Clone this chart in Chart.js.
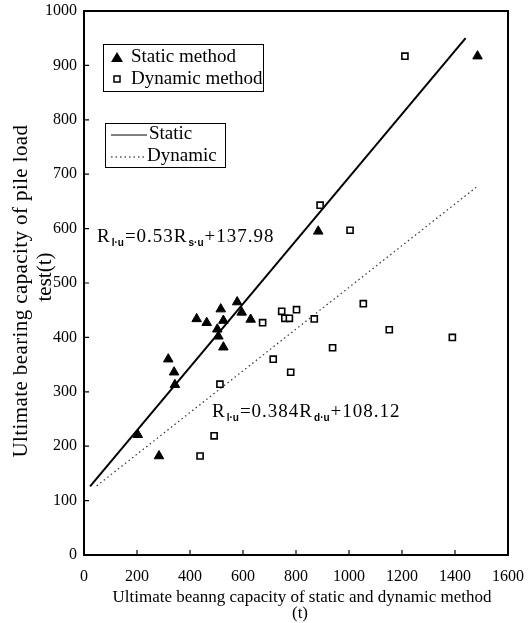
<!DOCTYPE html>
<html><head><meta charset="utf-8">
<script src="https://cdn.jsdelivr.net/npm/chart.js@4/dist/chart.umd.min.js"></script>
<style>html,body{margin:0;padding:0;background:#fff;}#wrap{width:532px;height:623px;position:relative;}</style>
</head><body><div id="wrap"><canvas id="c" width="532" height="623"></canvas></div>
<script>
const xTickValues = [0, 200, 400, 600, 800, 1000, 1200, 1400, 1600];
const yTickValues = [0, 100, 200, 300, 400, 500, 600, 700, 800, 900, 1000];
const staticX = [203, 283, 318, 340, 343, 425, 463, 516, 526, 503, 507, 526, 578, 595, 629, 884, 1485];
const staticY = [221, 182, 360, 336, 313, 434, 427, 452, 431, 415, 402, 382, 465, 446, 433, 595, 917];
const dynamicX = [438, 491, 513, 674, 714, 780, 746, 758, 775, 802, 869, 938, 1054, 1152, 1004, 891, 1211, 1390];
const dynamicY = [182, 219, 314, 427, 360, 336, 448, 435, 435, 451, 434, 381, 462, 414, 597, 643, 917, 400];
const staticLineX = [23, 1440];
const staticLineY = [126, 950];
const dynamicLineX = [48, 1480];
const dynamicLineY = [127, 676];
const legendItems = ['Static method', 'Dynamic method'];
const lineLegendItems = ['Static', 'Dynamic'];
const xTitle = ['Ultimate beanng capacity of static and dynamic method', '(t)'];
const yTitle = ['Ultimate bearing capacity of pile load', 'test(t)'];

const SERIF = '"Liberation Serif", "Times New Roman", serif';
const pts = (xs, ys) => xs.map((x, i) => ({x, y: ys[i]}));

function drawEq(ctx, x, y, parts, size) {
  ctx.textBaseline = 'alphabetic';
  ctx.textAlign = 'left';
  let cx = x;
  parts.forEach(([t, sub]) => {
    if (sub) {
      ctx.font = 'bold 10px "Liberation Sans", Arial, sans-serif';
      ctx.letterSpacing = '0px';
      ctx.fillText(t, cx + 1, y + 4);
      cx += ctx.measureText(t).width + 2;
    } else {
      ctx.font = size + 'px ' + SERIF;
      ctx.letterSpacing = '1px';
      ctx.fillText(t, cx, y);
      cx += ctx.measureText(t).width;
    }
  });
  ctx.letterSpacing = '0px';
}

const deco = {
  id: 'deco',
  afterDraw(chart) {
    const {ctx, chartArea: a, scales: {x, y}} = chart;
    ctx.save();
    ctx.strokeStyle = '#000';
    ctx.fillStyle = '#000';
    ctx.lineWidth = 2;
    ctx.beginPath();
    ctx.moveTo(a.left, a.top); ctx.lineTo(a.right, a.top); ctx.lineTo(a.right, a.bottom);
    ctx.stroke();
    ctx.lineWidth = 1.2;
    ctx.beginPath();
    yTickValues.forEach(v => { const p = y.getPixelForValue(v); ctx.moveTo(a.left, p); ctx.lineTo(a.left + 5, p); });
    xTickValues.forEach(v => { const p = x.getPixelForValue(v); ctx.moveTo(p, a.bottom); ctx.lineTo(p, a.bottom - 5); });
    ctx.stroke();

    ctx.lineWidth = 1;
    ctx.strokeRect(103.5, 44.5, 160, 47);
    ctx.beginPath();
    ctx.moveTo(117, 52); ctx.lineTo(123, 62); ctx.lineTo(111, 62); ctx.closePath(); ctx.fill();
    ctx.lineWidth = 1.5;
    ctx.strokeRect(114, 76, 6, 6);
    ctx.font = '19px ' + SERIF;
    ctx.textBaseline = 'middle';
    ctx.textAlign = 'left';
    ctx.fillText(legendItems[0], 131, 57);
    ctx.fillText(legendItems[1], 131, 79);

    ctx.lineWidth = 1;
    ctx.strokeRect(105.5, 123.5, 120, 44);
    ctx.beginPath(); ctx.moveTo(111, 135); ctx.lineTo(147, 135); ctx.stroke();
    ctx.setLineDash([1.5, 3]);
    ctx.beginPath(); ctx.moveTo(111, 157); ctx.lineTo(147, 157); ctx.stroke();
    ctx.setLineDash([]);
    ctx.fillText(lineLegendItems[0], 149, 134);
    ctx.fillText(lineLegendItems[1], 147, 156);

    drawEq(ctx, 97, 242, [['R'], ['l·u', 1], ['=0.53R'], ['s·u', 1], ['+137.98']], 19);
    drawEq(ctx, 212, 417, [['R'], ['l·u', 1], ['=0.384R'], ['d·u', 1], ['+108.12']], 19);

    ctx.textAlign = 'center';
    ctx.textBaseline = 'middle';
    ctx.font = '17px ' + SERIF;
    ctx.fillText(xTitle[0], 302, 598);
    ctx.fillText(xTitle[1], 300, 614);
    ctx.save();
    ctx.translate(21, 291);
    ctx.rotate(-Math.PI / 2);
    ctx.font = '21px ' + SERIF;
    ctx.letterSpacing = '0.4px';
    ctx.fillText(yTitle[0], 0, 0);
    ctx.restore();
    ctx.save();
    ctx.translate(45, 277);
    ctx.rotate(-Math.PI / 2);
    ctx.font = '21px ' + SERIF;
    ctx.fillText(yTitle[1], 0, 0);
    ctx.restore();
    ctx.restore();
  }
};

new Chart(document.getElementById('c'), {
  type: 'scatter',
  data: {
    datasets: [
      {label: 'Static method', data: pts(staticX, staticY), pointStyle: 'triangle', pointRadius: 5.5,
       backgroundColor: '#000', borderColor: '#000', borderWidth: 1},
      {label: 'Dynamic method', data: pts(dynamicX, dynamicY), pointStyle: 'rect', pointRadius: 4.3,
       backgroundColor: '#fff', borderColor: '#000', borderWidth: 1.6},
      {type: 'line', label: 'Static', data: pts(staticLineX, staticLineY), borderColor: '#000', borderWidth: 2,
       pointRadius: 0, fill: false},
      {type: 'line', label: 'Dynamic', data: pts(dynamicLineX, dynamicLineY), borderColor: '#333', borderWidth: 1.2,
       borderDash: [1.5, 3], pointRadius: 0, fill: false}
    ]
  },
  options: {
    responsive: false,
    animation: false,
    devicePixelRatio: 1,
    layout: {padding: {left: 0, top: 11, right: 24, bottom: 0}},
    plugins: {legend: {display: false}, tooltip: {enabled: false}},
    scales: {
      x: {
        type: 'linear', min: 0, max: 1600,
        afterBuildTicks: s => { s.ticks = xTickValues.map(v => ({value: v})); },
        ticks: {color: '#000', font: {family: SERIF, size: 16}, padding: 12, maxRotation: 0, autoSkip: false,
                callback: v => String(v)},
        grid: {display: false, drawTicks: false},
        border: {display: true, color: '#000', width: 2},
        afterFit: s => { s.height = 68; s.paddingLeft = 0; s.paddingRight = 0; }
      },
      y: {
        type: 'linear', min: 0, max: 1000,
        afterBuildTicks: s => { s.ticks = yTickValues.map(v => ({value: v})); },
        ticks: {color: '#000', font: {family: SERIF, size: 16}, padding: 7, autoSkip: false,
                callback: v => String(v)},
        grid: {display: false, drawTicks: false},
        border: {display: true, color: '#000', width: 2},
        afterFit: s => { s.width = 84; s.paddingTop = 0; s.paddingBottom = 0; }
      }
    }
  },
  plugins: [deco]
});
</script>
</body></html>
